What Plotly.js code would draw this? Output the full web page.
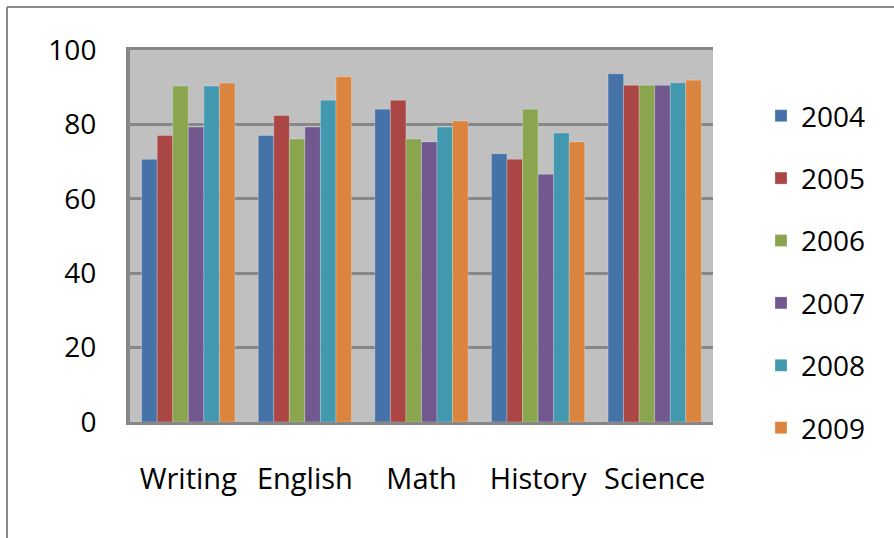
<!DOCTYPE html>
<html>
<head>
<meta charset="utf-8">
<script src="https://cdn.plot.ly/plotly-3.0.1.min.js"></script>
<style>html,body{margin:0;padding:0;background:#fff;}#chart{width:894px;height:538px;}</style>
</head>
<body>
<div id="chart"></div>
<script>
const subjects = ["Writing", "English", "Math", "History", "Science"];
const years = ["2004", "2005", "2006", "2007", "2008", "2009"];
const v2004 = [70.6, 77.0, 84.1, 72.1, 93.6];
const v2005 = [77.0, 82.4, 86.5, 70.6, 90.5];
const v2006 = [90.3, 76.1, 76.1, 84.1, 90.5];
const v2007 = [79.3, 79.3, 75.3, 66.6, 90.5];
const v2008 = [90.3, 86.5, 79.3, 77.7, 91.2];
const v2009 = [91.1, 92.8, 80.9, 75.3, 91.9];
const series = [v2004, v2005, v2006, v2007, v2008, v2009];
const colors = ["#4572A7", "#AA4643", "#89A54E", "#71588F", "#4198AF", "#DB843D"];

const traces = years.map((y, i) => ({
  type: "bar",
  name: y,
  x: subjects,
  y: series[i],
  legendgroup: "g" + i,
  marker: {color: colors[i], line: {color: "rgba(255,255,255,0.25)", width: 1}},
  hoverinfo: "x+y+name"
}));

const font = {family: "'Open Sans', sans-serif", size: 28, color: "#000"};
const xfont = {family: "'Open Sans', sans-serif", size: 29, color: "#000"};
const L = 130, R = 713, T = 50, B = 422;
const W = R - L, H = B - T;
const px = v => (v - L) / W;
const py = v => (B - v) / H;

const layout = {
  width: 894, height: 538,
  margin: {l: L, r: 894 - R, t: T, b: 538 - B, pad: 0},
  paper_bgcolor: "#ffffff",
  plot_bgcolor: "#C0C0C0",
  font: font,
  barmode: "group",
  bargap: 0.2,
  bargroupgap: 0,
  showlegend: true,
  legend: {
    x: px(761), xanchor: "left",
    y: py(91), yanchor: "top",
    font: font,
    bgcolor: "rgba(0,0,0,0)",
    tracegroupgap: 23,
    itemwidth: 30
  },
  xaxis: {
    type: "category",
    showgrid: false,
    showline: true, mirror: true,
    linecolor: "#878787", linewidth: 3,
    ticks: "", ticklabelstandoff: 29,
    tickfont: xfont,
    fixedrange: true
  },
  yaxis: {
    range: [0, 100],
    tickvals: [0, 20, 40, 60, 80, 100],
    showgrid: true, gridcolor: "#878787", gridwidth: 3,
    zeroline: false,
    showline: true, linecolor: "#878787", linewidth: 4,
    ticks: "", ticklabelstandoff: 24,
    tickfont: font,
    fixedrange: true
  },
  shapes: [
    {type: "line", xref: "paper", yref: "paper", x0: px(7), x1: px(7), y0: py(560), y1: py(7), line: {color: "#8a8a8a", width: 2}},
    {type: "line", xref: "paper", yref: "paper", x0: px(7), x1: px(900), y0: py(7), y1: py(7), line: {color: "#8a8a8a", width: 2}}
  ]
};

Plotly.newPlot("chart", traces, layout, {displayModeBar: false, staticPlot: true});
</script>
</body>
</html>
